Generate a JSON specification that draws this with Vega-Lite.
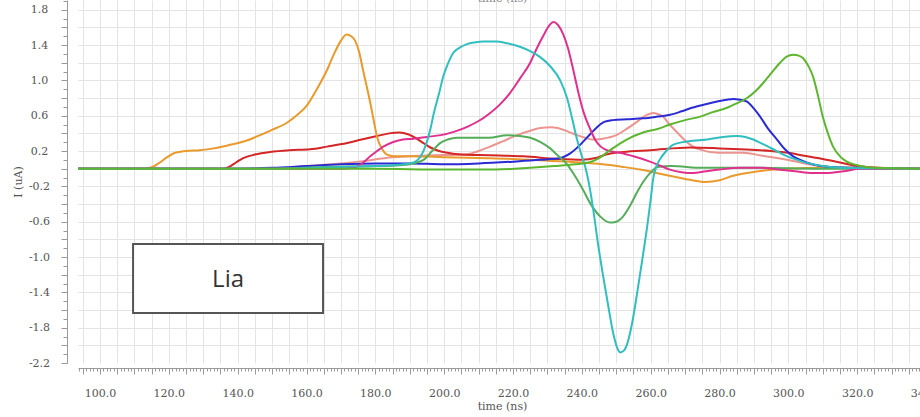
{
  "$schema": "https://vega.github.io/schema/vega-lite/v6.json",
  "autosize": {"type": "none"},
  "padding": {"left": 78, "top": 0, "right": -6, "bottom": 54},
  "width": 848,
  "height": 363,
  "background": "white",
  "config": {
    "view": {"stroke": null},
    "axis": {
      "labelFont": "DejaVu Serif",
      "titleFont": "DejaVu Serif",
      "labelFontSize": 11,
      "titleFontSize": 11,
      "labelColor": "#555555",
      "titleColor": "#555555",
      "titleFontWeight": "normal",
      "domainColor": "#9a9a9a",
      "tickColor": "#9a9a9a",
      "gridColor": "#e4e4e4"
    }
  },
  "resolve": {"axis": {"x": "independent", "y": "independent"}},
  "layer": [
    {
      "data": {"values": [
        {"s":"I8","t":93.6,"v":0},{"s":"I8","t":145,"v":0},{"s":"I8","t":160,"v":0.03},{"s":"I8","t":175,"v":0.08},{"s":"I8","t":185,"v":0.13},{"s":"I8","t":195,"v":0.15},{"s":"I8","t":206.3,"v":0.16},{"s":"I8","t":210,"v":0.2},{"s":"I8","t":213.3,"v":0.25},{"s":"I8","t":217,"v":0.31},{"s":"I8","t":221.2,"v":0.38},{"s":"I8","t":225,"v":0.43},{"s":"I8","t":228,"v":0.46},{"s":"I8","t":231,"v":0.47},{"s":"I8","t":233,"v":0.46},{"s":"I8","t":236,"v":0.42},{"s":"I8","t":238.6,"v":0.38},{"s":"I8","t":241,"v":0.35},{"s":"I8","t":243.3,"v":0.33},{"s":"I8","t":246,"v":0.34},{"s":"I8","t":250,"v":0.38},{"s":"I8","t":253,"v":0.45},{"s":"I8","t":256,"v":0.53},{"s":"I8","t":258.5,"v":0.6},{"s":"I8","t":260.7,"v":0.63},{"s":"I8","t":262,"v":0.62},{"s":"I8","t":263.6,"v":0.59},{"s":"I8","t":265.5,"v":0.5},{"s":"I8","t":267.7,"v":0.41},{"s":"I8","t":270,"v":0.32},{"s":"I8","t":272.3,"v":0.25},{"s":"I8","t":275,"v":0.21},{"s":"I8","t":277.3,"v":0.19},{"s":"I8","t":282,"v":0.18},{"s":"I8","t":287,"v":0.18},{"s":"I8","t":292,"v":0.15},{"s":"I8","t":296.7,"v":0.12},{"s":"I8","t":301,"v":0.09},{"s":"I8","t":306,"v":0.05},{"s":"I8","t":312,"v":0.02},{"s":"I8","t":320,"v":0.01},{"s":"I8","t":340,"v":0},

        {"s":"I2","t":93.6,"v":0},{"s":"I2","t":136,"v":0},{"s":"I2","t":137.5,"v":0.02},{"s":"I2","t":139.5,"v":0.07},{"s":"I2","t":141.6,"v":0.12},{"s":"I2","t":145,"v":0.16},{"s":"I2","t":149.4,"v":0.19},{"s":"I2","t":155,"v":0.21},{"s":"I2","t":161,"v":0.22},{"s":"I2","t":166,"v":0.25},{"s":"I2","t":171.8,"v":0.29},{"s":"I2","t":176,"v":0.33},{"s":"I2","t":180.5,"v":0.37},{"s":"I2","t":184,"v":0.4},{"s":"I2","t":187,"v":0.41},{"s":"I2","t":189.5,"v":0.39},{"s":"I2","t":192,"v":0.34},{"s":"I2","t":194,"v":0.29},{"s":"I2","t":196,"v":0.24},{"s":"I2","t":198.5,"v":0.2},{"s":"I2","t":201,"v":0.18},{"s":"I2","t":205,"v":0.16},{"s":"I2","t":210,"v":0.155},{"s":"I2","t":216,"v":0.15},{"s":"I2","t":223,"v":0.14},{"s":"I2","t":233,"v":0.11},{"s":"I2","t":240,"v":0.1},{"s":"I2","t":244,"v":0.12},{"s":"I2","t":247,"v":0.16},{"s":"I2","t":252,"v":0.19},{"s":"I2","t":260,"v":0.21},{"s":"I2","t":271.5,"v":0.24},{"s":"I2","t":280,"v":0.23},{"s":"I2","t":286,"v":0.22},{"s":"I2","t":295,"v":0.2},{"s":"I2","t":300,"v":0.18},{"s":"I2","t":305.5,"v":0.14},{"s":"I2","t":310,"v":0.11},{"s":"I2","t":315,"v":0.07},{"s":"I2","t":320,"v":0.03},{"s":"I2","t":326,"v":0.01},{"s":"I2","t":340,"v":0},

        {"s":"I1","t":93.6,"v":0},{"s":"I1","t":112,"v":0},{"s":"I1","t":114.5,"v":0.01},{"s":"I1","t":117,"v":0.06},{"s":"I1","t":119.5,"v":0.13},{"s":"I1","t":121.8,"v":0.18},{"s":"I1","t":125,"v":0.2},{"s":"I1","t":129,"v":0.21},{"s":"I1","t":133,"v":0.23},{"s":"I1","t":137.8,"v":0.27},{"s":"I1","t":142,"v":0.31},{"s":"I1","t":146.5,"v":0.38},{"s":"I1","t":150,"v":0.44},{"s":"I1","t":154.3,"v":0.52},{"s":"I1","t":157,"v":0.6},{"s":"I1","t":160.2,"v":0.72},{"s":"I1","t":163,"v":0.9},{"s":"I1","t":166,"v":1.12},{"s":"I1","t":168,"v":1.3},{"s":"I1","t":169.7,"v":1.43},{"s":"I1","t":171.6,"v":1.52},{"s":"I1","t":173,"v":1.5},{"s":"I1","t":174.1,"v":1.45},{"s":"I1","t":175.3,"v":1.32},{"s":"I1","t":176.4,"v":1.12},{"s":"I1","t":177.5,"v":0.93},{"s":"I1","t":178.5,"v":0.75},{"s":"I1","t":179.5,"v":0.55},{"s":"I1","t":180.5,"v":0.36},{"s":"I1","t":182,"v":0.22},{"s":"I1","t":183.4,"v":0.16},{"s":"I1","t":186,"v":0.14},{"s":"I1","t":190,"v":0.14},{"s":"I1","t":200,"v":0.13},{"s":"I1","t":210,"v":0.12},{"s":"I1","t":220,"v":0.11},{"s":"I1","t":230,"v":0.09},{"s":"I1","t":240,"v":0.07},{"s":"I1","t":246,"v":0.05},{"s":"I1","t":252,"v":0.02},{"s":"I1","t":257,"v":-0.01},{"s":"I1","t":263,"v":-0.06},{"s":"I1","t":268,"v":-0.1},{"s":"I1","t":272,"v":-0.13},{"s":"I1","t":276,"v":-0.15},{"s":"I1","t":280,"v":-0.13},{"s":"I1","t":284,"v":-0.08},{"s":"I1","t":288,"v":-0.05},{"s":"I1","t":293,"v":-0.02},{"s":"I1","t":300,"v":0},{"s":"I1","t":310,"v":0.01},{"s":"I1","t":320,"v":0.01},{"s":"I1","t":340,"v":0},

        {"s":"I5","t":93.6,"v":0},{"s":"I5","t":140,"v":0},{"s":"I5","t":150,"v":0.01},{"s":"I5","t":160,"v":0.03},{"s":"I5","t":170,"v":0.05},{"s":"I5","t":180,"v":0.06},{"s":"I5","t":190,"v":0.06},{"s":"I5","t":200,"v":0.05},{"s":"I5","t":210,"v":0.06},{"s":"I5","t":220,"v":0.08},{"s":"I5","t":228,"v":0.1},{"s":"I5","t":233.7,"v":0.12},{"s":"I5","t":236.5,"v":0.17},{"s":"I5","t":239.5,"v":0.27},{"s":"I5","t":242.4,"v":0.39},{"s":"I5","t":244.4,"v":0.47},{"s":"I5","t":246.5,"v":0.53},{"s":"I5","t":249,"v":0.55},{"s":"I5","t":253,"v":0.56},{"s":"I5","t":257.8,"v":0.57},{"s":"I5","t":262,"v":0.59},{"s":"I5","t":265.6,"v":0.61},{"s":"I5","t":269,"v":0.65},{"s":"I5","t":272,"v":0.69},{"s":"I5","t":276,"v":0.73},{"s":"I5","t":279.3,"v":0.76},{"s":"I5","t":282,"v":0.78},{"s":"I5","t":284,"v":0.79},{"s":"I5","t":286,"v":0.78},{"s":"I5","t":288,"v":0.76},{"s":"I5","t":290,"v":0.68},{"s":"I5","t":291.8,"v":0.59},{"s":"I5","t":294,"v":0.46},{"s":"I5","t":296.7,"v":0.33},{"s":"I5","t":299,"v":0.22},{"s":"I5","t":301.4,"v":0.14},{"s":"I5","t":304,"v":0.09},{"s":"I5","t":307,"v":0.05},{"s":"I5","t":312,"v":0.02},{"s":"I5","t":320,"v":0.01},{"s":"I5","t":340,"v":0},

        {"s":"I6","t":93.6,"v":0},{"s":"I6","t":150,"v":0},{"s":"I6","t":165,"v":0.02},{"s":"I6","t":180,"v":0.03},{"s":"I6","t":187,"v":0.04},{"s":"I6","t":190,"v":0.05},{"s":"I6","t":192,"v":0.07},{"s":"I6","t":194,"v":0.1},{"s":"I6","t":196.5,"v":0.2},{"s":"I6","t":198.8,"v":0.29},{"s":"I6","t":201,"v":0.33},{"s":"I6","t":203.7,"v":0.35},{"s":"I6","t":208,"v":0.35},{"s":"I6","t":213,"v":0.35},{"s":"I6","t":218.3,"v":0.38},{"s":"I6","t":222,"v":0.37},{"s":"I6","t":225,"v":0.35},{"s":"I6","t":228,"v":0.3},{"s":"I6","t":230.8,"v":0.23},{"s":"I6","t":233,"v":0.15},{"s":"I6","t":235.7,"v":0.05},{"s":"I6","t":238.6,"v":-0.12},{"s":"I6","t":240.5,"v":-0.25},{"s":"I6","t":242.4,"v":-0.39},{"s":"I6","t":245.3,"v":-0.54},{"s":"I6","t":248.2,"v":-0.61},{"s":"I6","t":250,"v":-0.6},{"s":"I6","t":252,"v":-0.54},{"s":"I6","t":254,"v":-0.42},{"s":"I6","t":256,"v":-0.27},{"s":"I6","t":258,"v":-0.14},{"s":"I6","t":259.8,"v":-0.05},{"s":"I6","t":262,"v":0.02},{"s":"I6","t":266,"v":0.03},{"s":"I6","t":275,"v":0.01},{"s":"I6","t":290,"v":0.01},{"s":"I6","t":310,"v":0},{"s":"I6","t":340,"v":0},

        {"s":"I3","t":93.6,"v":0},{"s":"I3","t":170,"v":0},{"s":"I3","t":173,"v":0.01},{"s":"I3","t":175,"v":0.03},{"s":"I3","t":176.5,"v":0.07},{"s":"I3","t":178.5,"v":0.14},{"s":"I3","t":180.5,"v":0.2},{"s":"I3","t":182.3,"v":0.25},{"s":"I3","t":185,"v":0.3},{"s":"I3","t":188,"v":0.33},{"s":"I3","t":191,"v":0.34},{"s":"I3","t":195,"v":0.36},{"s":"I3","t":199,"v":0.38},{"s":"I3","t":203,"v":0.42},{"s":"I3","t":207,"v":0.48},{"s":"I3","t":210,"v":0.54},{"s":"I3","t":213,"v":0.62},{"s":"I3","t":216,"v":0.72},{"s":"I3","t":219,"v":0.85},{"s":"I3","t":222,"v":1.02},{"s":"I3","t":225,"v":1.2},{"s":"I3","t":227,"v":1.37},{"s":"I3","t":229,"v":1.52},{"s":"I3","t":230.5,"v":1.62},{"s":"I3","t":231.8,"v":1.66},{"s":"I3","t":233,"v":1.63},{"s":"I3","t":234.5,"v":1.53},{"s":"I3","t":236,"v":1.36},{"s":"I3","t":237.5,"v":1.12},{"s":"I3","t":239,"v":0.86},{"s":"I3","t":240.5,"v":0.64},{"s":"I3","t":242.4,"v":0.45},{"s":"I3","t":244,"v":0.32},{"s":"I3","t":245.5,"v":0.25},{"s":"I3","t":248,"v":0.2},{"s":"I3","t":251,"v":0.18},{"s":"I3","t":255,"v":0.14},{"s":"I3","t":259.8,"v":0.08},{"s":"I3","t":263,"v":0.03},{"s":"I3","t":265.6,"v":-0.01},{"s":"I3","t":269,"v":-0.04},{"s":"I3","t":272.3,"v":-0.05},{"s":"I3","t":276,"v":-0.03},{"s":"I3","t":280,"v":-0.01},{"s":"I3","t":286,"v":0.01},{"s":"I3","t":292,"v":0.01},{"s":"I3","t":297,"v":-0.01},{"s":"I3","t":302,"v":-0.03},{"s":"I3","t":307,"v":-0.05},{"s":"I3","t":311,"v":-0.05},{"s":"I3","t":316,"v":-0.03},{"s":"I3","t":321,"v":0},{"s":"I3","t":340,"v":0},

        {"s":"I4","t":93.6,"v":0},{"s":"I4","t":150,"v":0},{"s":"I4","t":170,"v":0.02},{"s":"I4","t":185,"v":0.04},{"s":"I4","t":190,"v":0.06},{"s":"I4","t":192,"v":0.09},{"s":"I4","t":193.3,"v":0.15},{"s":"I4","t":194.5,"v":0.25},{"s":"I4","t":196,"v":0.45},{"s":"I4","t":197,"v":0.63},{"s":"I4","t":198.5,"v":0.85},{"s":"I4","t":199.7,"v":1.04},{"s":"I4","t":201,"v":1.18},{"s":"I4","t":202.6,"v":1.31},{"s":"I4","t":204.5,"v":1.37},{"s":"I4","t":206.6,"v":1.41},{"s":"I4","t":209,"v":1.43},{"s":"I4","t":211.3,"v":1.44},{"s":"I4","t":215,"v":1.44},{"s":"I4","t":218.3,"v":1.42},{"s":"I4","t":222,"v":1.38},{"s":"I4","t":225,"v":1.33},{"s":"I4","t":228,"v":1.26},{"s":"I4","t":230.8,"v":1.16},{"s":"I4","t":233.7,"v":1.0},{"s":"I4","t":235.7,"v":0.8},{"s":"I4","t":237,"v":0.6},{"s":"I4","t":238.6,"v":0.33},{"s":"I4","t":240,"v":0.14},{"s":"I4","t":241,"v":0.02},{"s":"I4","t":242.4,"v":-0.24},{"s":"I4","t":243.3,"v":-0.46},{"s":"I4","t":244.7,"v":-0.85},{"s":"I4","t":246.2,"v":-1.22},{"s":"I4","t":247.7,"v":-1.56},{"s":"I4","t":249.1,"v":-1.86},{"s":"I4","t":250.2,"v":-2.02},{"s":"I4","t":251.1,"v":-2.08},{"s":"I4","t":252.2,"v":-2.06},{"s":"I4","t":253.2,"v":-1.98},{"s":"I4","t":254.6,"v":-1.75},{"s":"I4","t":256.1,"v":-1.4},{"s":"I4","t":257.6,"v":-1.02},{"s":"I4","t":259,"v":-0.65},{"s":"I4","t":260,"v":-0.35},{"s":"I4","t":260.7,"v":-0.12},{"s":"I4","t":261.6,"v":0.02},{"s":"I4","t":262.6,"v":0.1},{"s":"I4","t":264.5,"v":0.2},{"s":"I4","t":266.5,"v":0.27},{"s":"I4","t":271,"v":0.31},{"s":"I4","t":276.4,"v":0.33},{"s":"I4","t":281,"v":0.36},{"s":"I4","t":285,"v":0.37},{"s":"I4","t":287.5,"v":0.36},{"s":"I4","t":289.8,"v":0.33},{"s":"I4","t":292.5,"v":0.28},{"s":"I4","t":295.6,"v":0.22},{"s":"I4","t":299,"v":0.15},{"s":"I4","t":302.6,"v":0.1},{"s":"I4","t":306,"v":0.06},{"s":"I4","t":310,"v":0.03},{"s":"I4","t":316,"v":0.01},{"s":"I4","t":340,"v":0},

        {"s":"I7","t":93.6,"v":0},{"s":"I7","t":150,"v":0},{"s":"I7","t":180,"v":0},{"s":"I7","t":200,"v":-0.01},{"s":"I7","t":215,"v":-0.01},{"s":"I7","t":225,"v":0.01},{"s":"I7","t":232,"v":0.03},{"s":"I7","t":238,"v":0.05},{"s":"I7","t":242,"v":0.07},{"s":"I7","t":245,"v":0.12},{"s":"I7","t":248.2,"v":0.21},{"s":"I7","t":250.5,"v":0.27},{"s":"I7","t":253,"v":0.33},{"s":"I7","t":257.8,"v":0.41},{"s":"I7","t":262,"v":0.45},{"s":"I7","t":265.6,"v":0.5},{"s":"I7","t":270,"v":0.55},{"s":"I7","t":274.4,"v":0.59},{"s":"I7","t":278,"v":0.64},{"s":"I7","t":282.2,"v":0.69},{"s":"I7","t":285,"v":0.74},{"s":"I7","t":288,"v":0.8},{"s":"I7","t":290.5,"v":0.88},{"s":"I7","t":292.7,"v":0.97},{"s":"I7","t":295,"v":1.08},{"s":"I7","t":297.6,"v":1.2},{"s":"I7","t":299.5,"v":1.27},{"s":"I7","t":301.4,"v":1.29},{"s":"I7","t":303,"v":1.28},{"s":"I7","t":304.3,"v":1.25},{"s":"I7","t":306,"v":1.15},{"s":"I7","t":307.2,"v":1.04},{"s":"I7","t":308.6,"v":0.83},{"s":"I7","t":310,"v":0.59},{"s":"I7","t":311.5,"v":0.4},{"s":"I7","t":313,"v":0.25},{"s":"I7","t":315,"v":0.14},{"s":"I7","t":317,"v":0.08},{"s":"I7","t":320,"v":0.04},{"s":"I7","t":325,"v":0.01},{"s":"I7","t":340,"v":0}
      ]},
      "mark": {"type": "line", "interpolate": "monotone", "strokeWidth": 2},
      "encoding": {
        "x": {
          "field": "t", "type": "quantitative",
          "scale": {"domain": [93.6, 340], "nice": false, "zero": false},
          "axis": {
            "orient": "bottom", "offset": 5,
            "values": [95,100,105,110,115,120,125,130,135,140,145,150,155,160,165,170,175,180,185,190,195,200,205,210,215,220,225,230,235,240,245,250,255,260,265,270,275,280,285,290,295,300,305,310,315,320,325,330,335,340],
            "grid": true, "tickSize": 6,
            "labelExpr": "datum.value % 20 === 0 ? format(datum.value, '.1f') : ''",
            "labelOverlap": false, "labelFlush": false, "labelPadding": 13,
            "title": "time (ns)", "titlePadding": 2
          }
        },
        "y": {
          "field": "v", "type": "quantitative",
          "scale": {"domain": [-2.2, 1.91], "nice": false, "zero": false},
          "axis": {
            "orient": "left", "offset": 11,
            "values": [-2.2,-2,-1.8,-1.6,-1.4,-1.2,-1,-0.8,-0.6,-0.4,-0.2,0,0.2,0.4,0.6,0.8,1,1.2,1.4,1.6,1.8],
            "grid": true,
            "gridOpacity": {"condition": {"test": "datum.value < -2.1", "value": 0}, "value": 1},
            "tickSize": 6,
            "labelExpr": "abs((datum.value + 2.2) / 0.4 - round((datum.value + 2.2) / 0.4)) < 0.01 ? replace(format(datum.value, '.1f'), '\u2212', '-') : ''",
            "labelAlign": "center", "labelPadding": 22,
            "labelOverlap": false, "labelFlush": false,
            "title": "I (uA)", "titleX": -44
          }
        },
        "color": {
          "field": "s", "type": "nominal",
          "scale": {
            "domain": ["I1","I2","I3","I4","I5","I6","I7","I8"],
            "range": ["#e99a2c","#d42626","#e0308e","#30bec0","#2b2bd6","#55ad5a","#5db62f","#ec9590"]
          },
          "legend": null
        }
      }
    },
    {
      "data": {"values": [{"t": 109.6, "t2": 164.8, "v": -0.853, "v2": -1.634}]},
      "mark": {"type": "rect", "fill": "white", "stroke": "#555555", "strokeWidth": 2},
      "encoding": {
        "x": {
          "field": "t", "type": "quantitative",
          "scale": {"domain": [93.6, 340], "nice": false, "zero": false},
          "axis": {"orient": "bottom", "offset": 5, "tickCount": 246, "grid": false, "labels": false, "domain": false, "tickSize": 3, "title": null}
        },
        "x2": {"field": "t2"},
        "y": {
          "field": "v", "type": "quantitative",
          "scale": {"domain": [-2.2, 1.91], "nice": false, "zero": false},
          "axis": {
            "orient": "left", "offset": 11,
            "values": [-2.2,-2.1,-2,-1.9,-1.8,-1.7,-1.6,-1.5,-1.4,-1.3,-1.2,-1.1,-1,-0.9,-0.8,-0.7,-0.6,-0.5,-0.4,-0.3,-0.2,-0.1,0,0.1,0.2,0.3,0.4,0.5,0.6,0.7,0.8,0.9,1,1.1,1.2,1.3,1.4,1.5,1.6,1.7,1.8,1.9],
            "grid": false, "labels": false, "domain": false, "tickSize": 4, "title": null
          }
        },
        "y2": {"field": "v2"}
      }
    },
    {
      "data": {"values": [{"t": 137.2, "v": -1.26, "label": "Lia"}]},
      "mark": {"type": "text", "font": "Open Sans", "fontSize": 24, "color": "#333333", "align": "center", "baseline": "middle"},
      "encoding": {
        "x": {
          "field": "t", "type": "quantitative",
          "scale": {"domain": [93.6, 340], "nice": false, "zero": false},
          "axis": {"orient": "top", "labels": false, "ticks": false, "domain": false, "grid": false, "title": "time (ns)", "titleY": 1, "titleBaseline": "alphabetic", "titleColor": "#888888"}
        },
        "y": {"field": "v", "type": "quantitative", "axis": null},
        "text": {"field": "label"}
      }
    }
  ]
}
